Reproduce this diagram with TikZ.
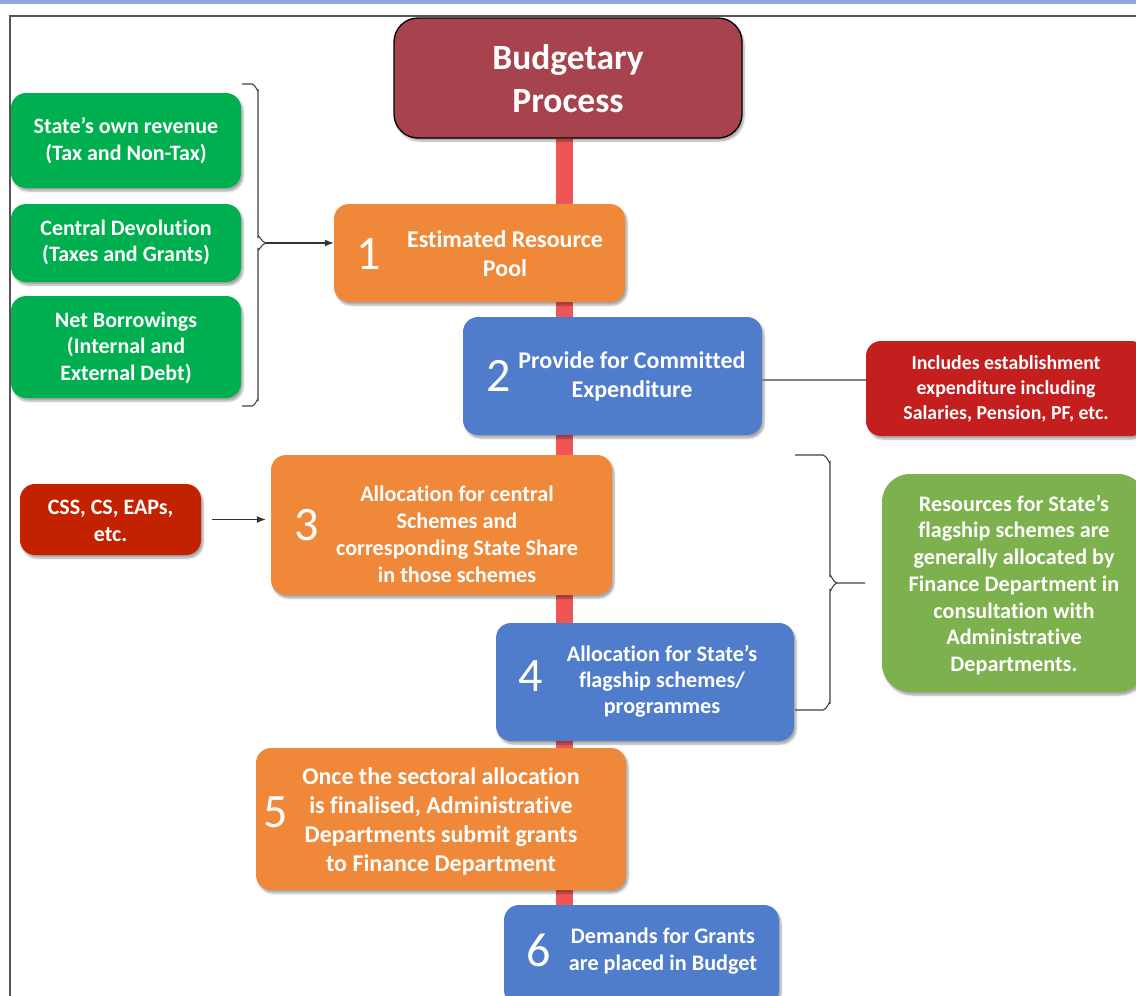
\documentclass[tikz,border=0pt]{standalone}
\usepackage{fontspec}
\setmainfont{Carlito}[Ligatures=NoCommon]
\usetikzlibrary{arrows.meta,shadows.blur,calc}
\pgfdeclarelayer{bg}\pgfsetlayers{bg,main}
\definecolor{topbar}{HTML}{8EAADB}
\definecolor{framec}{HTML}{555555}
\definecolor{maroon}{HTML}{A6434C}
\definecolor{orng}{HTML}{F0883A}
\definecolor{blu}{HTML}{4F7CCB}
\definecolor{grn}{HTML}{00B050}
\definecolor{olive}{HTML}{7CB14D}
\definecolor{redbox}{HTML}{C41E1E}
\definecolor{cssred}{HTML}{C32200}
\definecolor{spinec}{HTML}{EF5555}
\definecolor{linec}{HTML}{808080}
\begin{document}
\begin{tikzpicture}[x=1pt,y=-1pt,
  box/.style={rectangle, rounded corners=15pt, inner sep=0pt,
    blur shadow={shadow xshift=2pt,shadow yshift=-3pt,shadow blur steps=6,shadow opacity=35}},
  txt/.style={text=white, font=\bfseries\fontsize{22.2}{27}\selectfont, align=center, inner sep=0pt},
  stxt/.style={text=white, font=\bfseries\fontsize{19.8}{25}\selectfont, align=center, inner sep=0pt},
  num/.style={text=white, font=\fontsize{48}{48}\selectfont, inner sep=0pt},
  arr/.style={draw=black!80, line width=1.2pt, -{Latex[length=9pt,width=7pt]}},
  brace/.style={draw=black!75, line width=1.1pt},
  spine/.style={draw=spinec, line width=17pt}]
\useasboundingbox (0,0) rectangle (1136,996);
\clip (0,0) rectangle (1136,996);
\fill[topbar] (0,0) rectangle (1136,4);
\draw[framec, line width=1.3pt] (10,998) -- (10,16) -- (1138,16);

% top box
\node[box, fill=maroon, draw=black, line width=1.3pt, rounded corners=24pt,
  minimum width=348pt, minimum height=120pt] (b0) at (568,78) {};
\node[txt, font=\bfseries\fontsize{35.5}{43}\selectfont] (t0) at (568,79) {Budgetary\\Process};

% left green boxes
\node[box, fill=grn, minimum width=230pt, minimum height=95pt] (g1) at (126,140.5) {};
\node[txt, font=\bfseries\fontsize{22}{27}\selectfont] (tg1) at (126,141) {State’s own revenue\\(Tax and Non-Tax)};
\node[box, fill=grn, minimum width=230pt, minimum height=78pt] (g2) at (126,243) {};
\node[txt, font=\bfseries\fontsize{22}{26}\selectfont] (tg2) at (126,242) {Central Devolution\\(Taxes and Grants)};
\node[box, fill=grn, minimum width=230pt, minimum height=102pt] (g3) at (126,347) {};
\node[txt, font=\bfseries\fontsize{22}{26.5}\selectfont] (tg3) at (126,347.5) {Net Borrowings\\(Internal and\\External Debt)};

% box 1
\node[box, fill=orng, minimum width=291pt, minimum height=98pt] (b1) at (479.5,253) {};
\node[num] (n1) at (369,254) {1};
\node[txt, font=\bfseries\fontsize{24}{29}\selectfont] (t1) at (505,253.5) {Estimated Resource\\Pool};

% box 2
\node[box, fill=blu, minimum width=299pt, minimum height=118pt] (b2) at (612.5,376) {};
\node[num] (n2) at (499,376) {2};
\node[txt, font=\bfseries\fontsize{24}{29}\selectfont] (t2) at (632,376.5) {Provide for Committed\\Expenditure};

\node[box, fill=redbox, minimum width=280pt, minimum height=95pt] (r2) at (1006,388.5) {};
\node[stxt] (tr2) at (1006,389) {Includes establishment\\expenditure including\\Salaries, Pension, PF, etc.};

% box 3
\node[box, fill=orng, minimum width=341pt, minimum height=140pt] (b3) at (441.5,525) {};
\node[num] (n3) at (307,525) {3};
\node[txt] (t3) at (457,534) {Allocation for central\\Schemes and\\corresponding State Share\\in those schemes};

\node[box, fill=cssred, minimum width=181pt, minimum height=71pt] (css) at (110.5,519.5) {};
\node[txt, font=\bfseries\fontsize{22}{27}\selectfont] (tcss) at (110.5,521) {CSS, CS, EAPs,\\etc.};

% box 4
\node[box, fill=blu, minimum width=298pt, minimum height=118pt] (b4) at (645,682) {};
\node[num] (n4) at (531,676) {4};
\node[txt, font=\bfseries\fontsize{22.2}{26}\selectfont] (t4) at (662,681) {Allocation for State’s\\flagship schemes/\\programmes};

\node[box, fill=olive, rounded corners=28pt, minimum width=264pt, minimum height=218pt] (gr) at (1014,583) {};
\node[txt, font=\bfseries\fontsize{22.2}{26.7}\selectfont] (tgr) at (1014,585) {Resources for State’s\\flagship schemes are\\generally allocated by\\Finance Department in\\consultation with\\Administrative\\Departments.};

% box 5
\node[box, fill=orng, minimum width=370pt, minimum height=142pt] (b5) at (441,819) {};
\node[num] (n5) at (276,812) {5};
\node[txt, font=\bfseries\fontsize{24}{29}\selectfont] (t5) at (441,821) {Once the sectoral allocation\\is finalised, Administrative\\Departments submit grants\\to Finance Department};

% box 6
\node[box, fill=blu, minimum width=275pt, minimum height=100pt] (b6) at (641.5,955) {};
\node[num] (n6) at (539,950) {6};
\node[txt] (t6) at (663,951) {Demands for Grants\\are placed in Budget};

% spine
\begin{pgfonlayer}{bg}
\draw[spine] (b0.south) ++(-3.5,0) coordinate (sp0) -- (sp0 |- b6.north);
\end{pgfonlayer}

% left brace and arrow
\coordinate (lbt) at (266,243);
\draw[brace] (242,84) -- (252,84) to[out=0,in=-90] (258,90) -- (258,237)
  to[out=90,in=180] (lbt) to[out=180,in=-90] (258,249) -- (258,400)
  to[out=90,in=0] (252,406) -- (242,406);
\draw[arr] (lbt) -- (lbt -| b1.west);

% line to red box
\draw[linec, line width=2pt] (b2.east) ++(0,4) coordinate (b2e) -- (b2e -| r2.west);

% css arrow
\draw[arr, shorten <=11pt, shorten >=5pt] (css.east) -- (css.east -| b3.west);

% right brace
\coordinate (rbt) at (865,583);
\draw[brace] (795,455) -- (823,455) to[out=0,in=-90] (830,462) -- (830,576)
  to[out=90,in=180] (837,583) -- (rbt);
\draw[brace] (837,583) to[out=180,in=-90] (830,590) -- (830,703)
  to[out=90,in=0] (823,710) -- (795,710);
\end{tikzpicture}
\end{document}
